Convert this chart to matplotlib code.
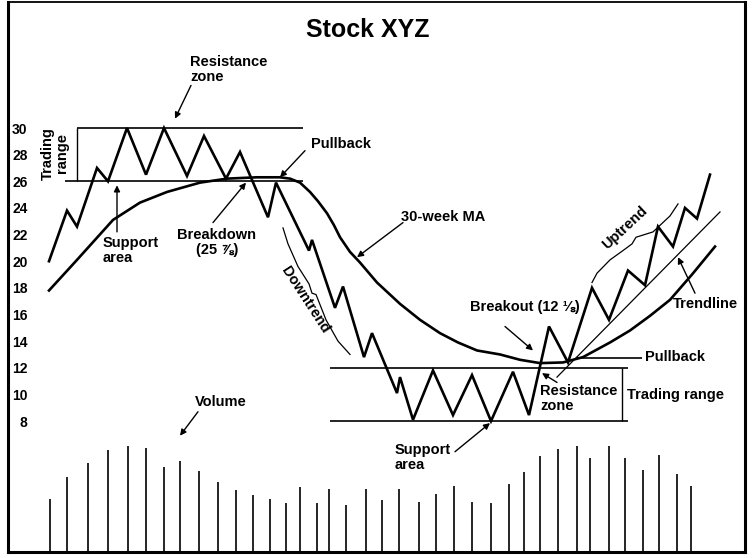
import matplotlib.pyplot as plt

plt.rcParams['font.family'] = ['Liberation Sans', 'DejaVu Sans']
plt.rcParams['font.weight'] = 'bold'

# 股价走势：横向位置（周）与价格
price_x = [49, 67, 77, 97, 108, 127, 146, 164, 187, 204, 226, 240, 268, 276,
           309, 312, 335, 343, 364, 372, 397, 400, 413, 433, 453, 472, 491,
           513, 529, 549, 568, 592, 609, 628, 645, 658, 673, 685, 697, 710]
price_y = [20.0, 23.8, 22.6, 27.0, 26.0, 30.0, 26.5, 30.0, 26.4, 29.4, 26.2,
           28.2, 23.3, 25.9, 20.8, 21.6, 16.5, 18.1, 12.8, 14.6, 10.1, 11.3,
           8.1, 11.8, 8.45, 11.45, 8.0, 11.7, 8.45, 15.1, 12.4, 18.0, 15.6,
           19.3, 18.2, 22.6, 21.1, 24.0, 23.2, 26.5]

# 30周均线
ma_x = [49, 77, 113, 140, 167, 200, 227, 257, 280, 290, 300, 310, 318, 327,
        334, 340, 350, 360, 377, 400, 420, 440, 458, 477, 500, 520, 540, 563,
        583, 610, 630, 650, 670, 692, 715]
ma_y = [17.8, 20.1, 23.1, 24.4, 25.2, 25.9, 26.2, 26.3, 26.3, 26.2, 25.9,
        25.2, 24.5, 23.6, 22.7, 21.8, 20.7, 19.9, 18.4, 16.8, 15.6, 14.6,
        13.9, 13.3, 13.0, 12.6, 12.35, 12.4, 12.8, 13.9, 14.8, 15.9, 17.1,
        19.0, 21.1]

# 趋势线
trend_x = [557, 720]
trend_y = [11.3, 23.7]

# 成交量
vol_x = [50, 67, 88, 108, 128, 146, 164, 180, 199, 218, 236, 253, 270, 286,
         300, 317, 329, 346, 366, 382, 399, 419, 436, 454, 472, 491, 509, 524,
         540, 558, 577, 590, 609, 625, 643, 659, 677, 691]
vol = [53, 75, 89, 102, 106, 104, 85, 91, 81, 70, 62, 57, 53, 49, 65, 49, 63,
       47, 63, 52, 63, 50, 58, 66, 50, 49, 68, 80, 96, 103, 106, 94, 106, 94,
       82, 97, 78, 66]

price_ticks = list(range(8, 31, 2))

W, H = 752, 558
fig = plt.figure(figsize=(W / 100, H / 100), dpi=100)
ax = fig.add_axes([8 / W, 6 / H, 737 / W, 550 / H])
ax.set_xlim(8, 745)
ax.set_ylim(-1.83, 39.46)
ax.set_xticks([])
ax.set_yticks(price_ticks)
ax.tick_params(axis='y', length=0, pad=-14, labelsize=10)
for s in ax.spines.values():
    s.set_linewidth(2.2)
ax.spines['top'].set_linewidth(1.3)

# 价格与均线
ax.plot(price_x, price_y, color='black', lw=1.9, solid_joinstyle='miter')
ax.plot(ma_x, ma_y, color='black', lw=1.9)
ax.plot(trend_x, trend_y, color='black', lw=0.9)

# 交易区间
ax.hlines(30, 77, 303, color='black', lw=1.2)
ax.hlines(26, 65, 303, color='black', lw=1.2)
ax.vlines(77, 26, 30, color='black', lw=1)
ax.hlines([12, 8], 330, 628, color='black', lw=1.2)
ax.vlines(622, 8, 12, color='black', lw=1)
ax.hlines(12.7, 577, 642, color='black', lw=1.2)

# 趋势括号
ax.plot([283, 288, 298, 309, 312, 316, 326, 338, 350],
        [22.5, 21.3, 19.6, 18.3, 17.6, 17.5, 15.6, 14.0, 13.0],
        color='black', lw=0.9)
ax.plot([592, 597, 610, 623, 632, 636, 653, 670, 678],
        [18.4, 19.1, 20.1, 20.8, 21.3, 21.8, 22.2, 23.4, 24.3],
        color='black', lw=0.9)

# 文字
fs = 10.5
ax.text(368, 37.36, 'Stock XYZ', ha='center', va='center', fontsize=18)
ax.text(190, 34.4, 'Resistance\nzone', ha='left', va='center', fontsize=fs, linespacing=1.1)
ax.text(55, 28.1, 'Trading\nrange', ha='center', va='center', fontsize=fs,
        rotation=90, linespacing=1.0)
ax.text(103, 20.8, 'Support\narea', ha='left', va='center', fontsize=fs, linespacing=1.1)
ax.text(217, 21.4, 'Breakdown\n(25 \u215e)', ha='center', va='center', fontsize=fs,
        linespacing=1.1)
ax.text(311, 28.8, 'Pullback', ha='left', va='center', fontsize=fs)
ax.text(401, 23.3, '30-week MA', ha='left', va='center', fontsize=fs)
ax.text(305, 17.1, 'Downtrend', ha='center', va='center', fontsize=fs,
        rotation=-57, rotation_mode='anchor')
ax.text(470, 16.56, 'Breakout (12 \u215b)', ha='left', va='center', fontsize=fs)
ax.text(540, 9.69, 'Resistance\nzone', ha='left', va='center', fontsize=fs, linespacing=1.1)
ax.text(627, 9.95, 'Trading range', ha='left', va='center', fontsize=fs)
ax.text(645, 12.8, 'Pullback', ha='left', va='center', fontsize=fs)
ax.text(673, 16.79, 'Trendline', ha='left', va='center', fontsize=fs)
ax.text(625, 22.5, 'Uptrend', ha='center', va='center', fontsize=fs,
        rotation=43, rotation_mode='anchor')
ax.text(395, 5.26, 'Support\narea', ha='left', va='center', fontsize=fs, linespacing=1.1)
ax.text(195, 9.43, 'Volume', ha='left', va='center', fontsize=fs)

# 箭头
arrows = [((191, 33.2), (175, 30.7)),
          ((117, 22.2), (117, 25.7)),
          ((213, 22.9), (246, 25.9)),
          ((305, 28.3), (280, 26.3)),
          ((403, 22.9), (357, 20.3)),
          ((505, 15.1), (533, 13.3)),
          ((557, 10.9), (542, 11.6)),
          ((695, 17.6), (678, 20.3)),
          ((455, 5.7), (490, 7.85)),
          ((198, 8.7), (180, 6.9))]
for tail, tip in arrows:
    ax.annotate('', xy=tip, xytext=tail,
                arrowprops=dict(arrowstyle='-|>', color='black', lw=1,
                                mutation_scale=9, shrinkA=0, shrinkB=0))

# 成交量柱
vax = fig.add_axes([8 / W, 6 / H, 737 / W, 120 / H])
vax.set_xlim(8, 745)
vax.set_ylim(0, 120)
vax.axis('off')
vax.vlines(vol_x, 0, vol, color='black', lw=1.2)

plt.savefig('out.png', dpi=100)
